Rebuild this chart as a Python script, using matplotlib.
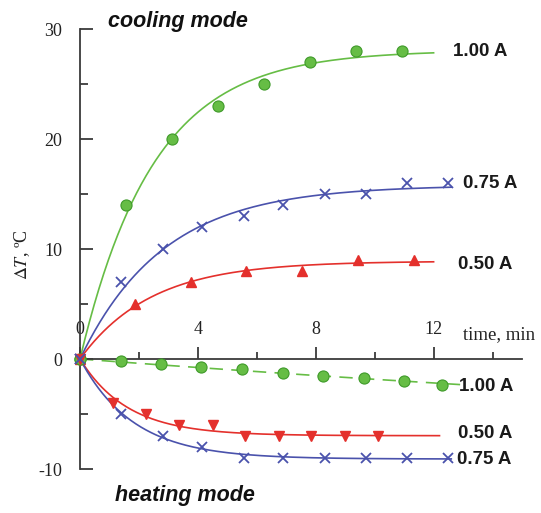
import numpy as np
import matplotlib
matplotlib.use("Agg")
import matplotlib.pyplot as plt
from matplotlib.ticker import MultipleLocator

# measured points (time in min, dT in degC)
t_cool_100 = [0, 1.56, 3.13, 4.69, 6.25, 7.81, 9.38, 10.94]
dT_cool_100 = [0, 14, 20, 23, 25, 27, 28, 28]
t_cool_075 = [0, 1.4, 2.8, 4.15, 5.55, 6.9, 8.3, 9.7, 11.1, 12.5]
dT_cool_075 = [0, 7, 10, 12, 13, 14, 15, 15, 16, 16]
t_cool_050 = [0, 1.88, 3.77, 5.65, 7.55, 9.42, 11.33]
dT_cool_050 = [0, 5, 7, 8, 8, 9, 9]

t_heat_100 = [0, 1.39, 2.76, 4.1, 5.5, 6.88, 8.24, 9.63, 10.99, 12.3]
dT_heat_100 = [0, -0.2, -0.45, -0.7, -0.9, -1.3, -1.55, -1.75, -2.0, -2.4]
t_heat_050 = [0, 1.13, 2.25, 3.37, 4.5, 5.6, 6.75, 7.85, 9.0, 10.1]
dT_heat_050 = [0, -4, -5, -6, -6, -7, -7, -7, -7, -7]
t_heat_075 = [0, 1.4, 2.8, 4.15, 5.55, 6.9, 8.3, 9.7, 11.1, 12.5]
dT_heat_075 = [0, -5, -7, -8, -9, -9, -9, -9, -9, -9]

labels = ["1.00 A", "0.75 A", "0.50 A", "1.00 A", "0.50 A", "0.75 A"]
label_x = [12.66, 13.0, 12.83, 12.86, 12.83, 12.79]
label_y = [28, 16, 8.6, -2.5, -6.8, -9.1]
fit_end = [12.0, 12.6, 12.0, 12.9, 12.2, 12.6]

xticks = [0, 4, 8, 12]
yticks = [-10, 0, 10, 20, 30]
ytick_labels = ["-10", "0", "10", "20", "30"]

GREEN = "#66bd45"
GREEN_EDGE = "#3f9a2a"
BLUE = "#4a52ac"
RED = "#e4302c"
AXIS = "#3a3a3a"


def exp_fit(t, y, t_end):
    # y = A (1 - exp(-t/tau)), least squares over a tau grid
    t = np.asarray(t, float)
    y = np.asarray(y, float)
    best = None
    for tau in np.linspace(0.3, 60, 3000):
        f = 1 - np.exp(-t / tau)
        A = (f * y).sum() / (f * f).sum()
        err = ((A * f - y) ** 2).sum()
        if best is None or err < best[0]:
            best = (err, A, tau)
    tt = np.linspace(0, t_end, 300)
    return tt, best[1] * (1 - np.exp(-tt / best[2]))


plt.rcParams["mathtext.fontset"] = "stix"

fig = plt.figure(figsize=(5.41, 5.13), dpi=100)
ax = fig.add_axes([80 / 541, 44 / 513, 442 / 541, 440 / 513])
ax.set_xlim(0, 15)
ax.set_ylim(-10, 30)

series = [
    (t_cool_100, dT_cool_100, GREEN, "o", "-"),
    (t_cool_075, dT_cool_075, BLUE, "x", "-"),
    (t_cool_050, dT_cool_050, RED, "^", "-"),
    (t_heat_100, dT_heat_100, GREEN, "o", "--"),
    (t_heat_050, dT_heat_050, RED, "v", "-"),
    (t_heat_075, dT_heat_075, BLUE, "x", "-"),
]

for (t, y, c, m, ls), t_end, lab, lx, ly in zip(series, fit_end, labels,
                                                label_x, label_y):
    tt, yy = exp_fit(t, y, t_end)
    line, = ax.plot(tt, yy, color=c, lw=1.2, ls=ls, clip_on=False, zorder=2)
    if ls == "--":
        line.set_dashes((8, 5))
    if m == "o":
        ax.plot(t, y, ls="none", marker=m, ms=8, mfc=c, mec=GREEN_EDGE,
                mew=0.8, clip_on=False, zorder=3)
    elif m == "x":
        ax.plot(t, y, ls="none", marker=m, ms=7, mec=c, mew=1.3,
                clip_on=False, zorder=3)
    else:
        ax.plot(t, y, ls="none", marker=m, ms=7, mfc=c, mec=c,
                clip_on=False, zorder=3)
    ax.text(lx, ly, lab, ha="left", va="center", fontsize=13.5,
            fontweight="bold", family="Liberation Sans", color="#1a1a1a",
            zorder=4)

# axes styling: y axis on the left, x axis through zero
for s in ["top", "right"]:
    ax.spines[s].set_visible(False)
ax.spines["bottom"].set_position(("data", 0))
ax.spines["left"].set_bounds(-10, 30)
ax.spines["bottom"].set_bounds(0, 15)
for s in ["left", "bottom"]:
    ax.spines[s].set_color(AXIS)
    ax.spines[s].set_linewidth(1.3)

ax.set_yticks(yticks)
ax.set_yticklabels(ytick_labels)
ax.yaxis.set_minor_locator(MultipleLocator(5))
ax.set_xticks(xticks)
ax.set_xticklabels([str(v) for v in xticks])
ax.xaxis.set_minor_locator(MultipleLocator(2))

ax.tick_params(axis="y", which="major", direction="in", length=9, width=1.3,
               color=AXIS, labelsize=13, pad=13, labelcolor="#222222")
ax.tick_params(axis="y", which="minor", direction="in", length=6, width=1.3,
               color=AXIS)
ax.tick_params(axis="x", which="major", direction="in", length=9, width=1.3,
               color=AXIS, labelsize=13, pad=-27, labelcolor="#222222")
ax.tick_params(axis="x", which="minor", direction="in", length=5, width=1.3,
               color=AXIS)
for lbl in ax.get_xticklabels() + ax.get_yticklabels():
    lbl.set_family("Liberation Serif")

ax.text(13.0, 2.2, "time, min", ha="left", va="center", fontsize=13.5,
        family="Liberation Serif", color="#222222", clip_on=False)
fig.text(22 / 541, 1 - 255 / 513, r"$\Delta T$, ºC", rotation=90,
         ha="center", va="center", fontsize=13, family="Liberation Serif",
         color="#222222")

fig.text(178 / 541, 1 - 22 / 513, "cooling mode", ha="center", va="center",
         fontsize=15.5, fontweight="bold", fontstyle="italic",
         family="Liberation Sans", color="#111111")
fig.text(185 / 541, 1 - 495 / 513, "heating mode", ha="center", va="center",
         fontsize=15.5, fontweight="bold", fontstyle="italic",
         family="Liberation Sans", color="#111111")

fig.savefig("out.png", dpi=100)
